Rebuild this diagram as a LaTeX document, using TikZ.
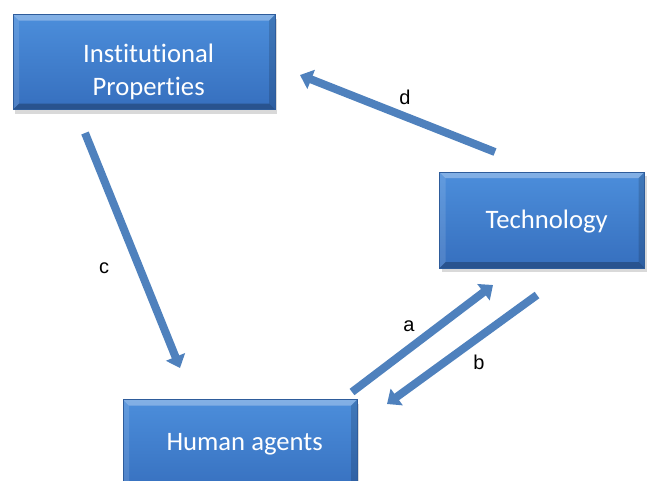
\documentclass[tikz,border=0pt]{standalone}
\usepackage{fontspec}
\setmainfont[Ligatures={NoCommon}]{Carlito}
\newfontfamily\lblfont{Liberation Sans}
\usetikzlibrary{arrows.meta, shadows, positioning, calc}
\definecolor{cTop}{RGB}{76, 142, 219}
\definecolor{cBot}{RGB}{54, 111, 190}
\definecolor{cBdr}{RGB}{46, 92, 155}
\definecolor{cArr}{RGB}{79, 129, 189}
\tikzstyle{BoxBlue}=[rectangle,
		draw=cBdr,
		thin,
		top color=cTop,
		bottom color=cBot,
		drop shadow={shadow xshift=1.5pt,shadow yshift=-3pt,opacity=0.3},
		bevel]
\tikzstyle{boxtxt}=[text=white,
		align=center,
		xshift=3.5pt,
		font=\fontsize{20}{25}\selectfont]
\tikzstyle{link}=[-{Triangle[width=15pt,length=9pt]},draw=cArr,line width=6pt]
\tikzstyle{lbl}=[font=\lblfont\fontsize{15}{18}\selectfont,text=black]
\tikzset{
  bevel/.style={path picture={
    \coordinate (pNW) at (path picture bounding box.north west);
    \coordinate (pNE) at (path picture bounding box.north east);
    \coordinate (pSW) at (path picture bounding box.south west);
    \coordinate (pSE) at (path picture bounding box.south east);
    \fill[white,opacity=0.3] (pNW) -- (pNE) -- ([shift={(-4.5pt,-4.5pt)}]pNE) -- ([shift={(4.5pt,-4.5pt)}]pNW) -- cycle;
    \fill[white,opacity=0.12] (pNW) -- ([shift={(4.5pt,-4.5pt)}]pNW) -- ([shift={(4.5pt,4.5pt)}]pSW) -- (pSW) -- cycle;
    \fill[black,opacity=0.15] (pNE) -- ([shift={(-4.5pt,-4.5pt)}]pNE) -- ([shift={(-4.5pt,4.5pt)}]pSE) -- (pSE) -- cycle;
    \fill[black,opacity=0.25] (pSW) -- ([shift={(4.5pt,4.5pt)}]pSW) -- ([shift={(-4.5pt,4.5pt)}]pSE) -- (pSE) -- cycle;
  }}
}
\begin{document}
\begin{tikzpicture}[x=0.75pt,y=-0.75pt]
  \useasboundingbox (0,0) rectangle (648,480);
  \clip (0,0) rectangle (648,480);

  \node [BoxBlue,minimum width=196.5pt,minimum height=71.25pt,
         label={[boxtxt,yshift=-7.5pt]center:Institutional\\Properties}] (inst) at (144,62) {};
  \node [BoxBlue,minimum width=153.75pt,minimum height=72pt,
         label={[boxtxt,yshift=-1pt]center:Technology}] (tech) at (542,220) {};
  \node [BoxBlue,minimum width=175.5pt,minimum height=71.25pt,
         label={[boxtxt,yshift=2pt]center:Human agents}] (human) at (240,447) {};

  % free ends of the arrows
  \coordinate (dS) at (495,152);
  \coordinate (dE) at (300,75);
  \coordinate (cS) at (85,133);
  \coordinate (cE) at (180,368);
  \coordinate (aS) at (352,392);
  \coordinate (aE) at (493,285);
  \coordinate (bS) at (537,295);
  \coordinate (bE) at (387,404);

  \draw[link] (dS) -- (dE);
  \draw[link] (cS) -- (cE);
  \draw[link] (aS) -- (aE);
  \draw[link] (bS) -- (bE);

  \node [lbl] (dlab) at (405,97) {d};
  \node [lbl] (clab) at (104,268) {c};
  \node [lbl] (alab) at (409,326) {a};
  \node [lbl] (blab) at (479,362) {b};
\end{tikzpicture}
\end{document}
